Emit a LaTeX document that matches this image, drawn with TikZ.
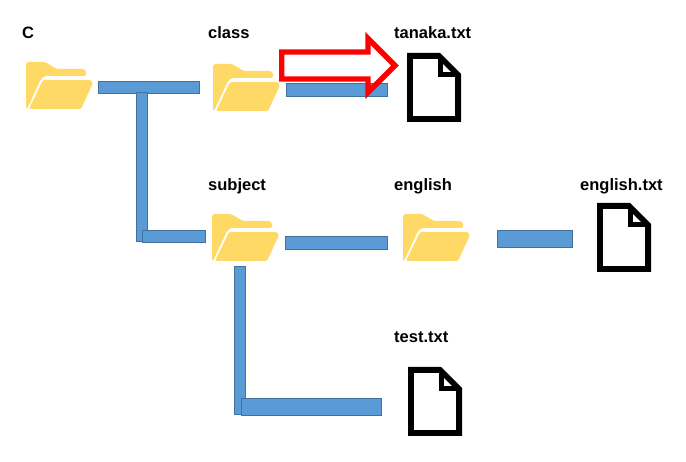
\documentclass[tikz,border=0pt]{standalone}
\usepackage{fontspec}
\setmainfont{Liberation Sans}
\definecolor{folderfill}{HTML}{FFD966}
\definecolor{barfill}{HTML}{5B9BD5}
\definecolor{barline}{HTML}{41719C}
\definecolor{arrowred}{HTML}{FF0000}
\tikzset{
  x=1pt,y=-1pt,
  label text/.style={font=\fontsize{16.5}{18}\selectfont\bfseries,anchor=base west,inner sep=0pt},
  bar/.style={fill=barfill,draw=barline,line width=0.9pt},
  folderpic/.pic={
    \fill[folderfill,rounded corners=1.5pt] (0,46) -- (0,2) -- (1,0) -- (19,0) -- (31,7) -- (58,7) -- (60,9) -- (60,14) -- (19,14) -- (15,17) -- (1,47) -- cycle;
    \fill[folderfill,rounded corners=1.5pt] (17,18) -- (65,18) -- (67,21) -- (55,47) -- (3,47) -- cycle;
  },
  filepic/.pic={
    \draw[black,line width=5.8pt,fill=white,miter limit=10] (2.9,2.9) -- (32,2.9) -- (51.1,22) -- (51.1,66.1) -- (2.9,66.1) -- cycle;
    \draw[black,line width=5pt] (33,2.9) -- (33,21.6) -- (51.1,21.6);
  }
}
\begin{document}
\begin{tikzpicture}
\useasboundingbox (0,0) rectangle (686,462);
\fill[white] (0,0) rectangle (686,462);
% labels
\node[label text] (lc) at (22,38.7) {C};
\node[label text] (lclass) at (208,38.7) {class};
\node[label text] (ltanaka) at (394,38.7) {tanaka.txt};
\node[label text] (lsubject) at (208,190.7) {subject};
\node[label text] (lenglish) at (394,190.7) {english};
\node[label text] (lenglishtxt) at (580,190.7) {english.txt};
\node[label text] (ltest) at (394,342.7) {test.txt};
% folders
\pic at (26,62) {folderpic};
\pic at (213,64) {folderpic};
\pic at (212,214) {folderpic};
\pic at (403,214) {folderpic};
% bars
\draw[bar] (98,81.5) rectangle (199.5,93.5);
\draw[bar] (136.5,92.5) rectangle (147,241);
\draw[bar] (142.5,230.5) rectangle (205.5,242);
\draw[bar] (286,83.5) rectangle (387.5,96);
\draw[bar] (285.5,236.5) rectangle (387.5,249);
\draw[bar] (234.5,266.5) rectangle (245,414.5);
\draw[bar] (241.5,398.5) rectangle (381.5,415.5);
\draw[bar] (497.5,230.5) rectangle (572.5,247.5);
% files
\pic at (407,53) {filepic};
\pic at (597,203) {filepic};
\pic at (408,367) {filepic};
% arrow
\draw[arrowred,line width=5.4pt,miter limit=10] (281.7,52) -- (368,52) -- (368,38.5) -- (395,65.5) -- (368,92.5) -- (368,79) -- (281.7,79) -- cycle;
\end{tikzpicture}
\end{document}
